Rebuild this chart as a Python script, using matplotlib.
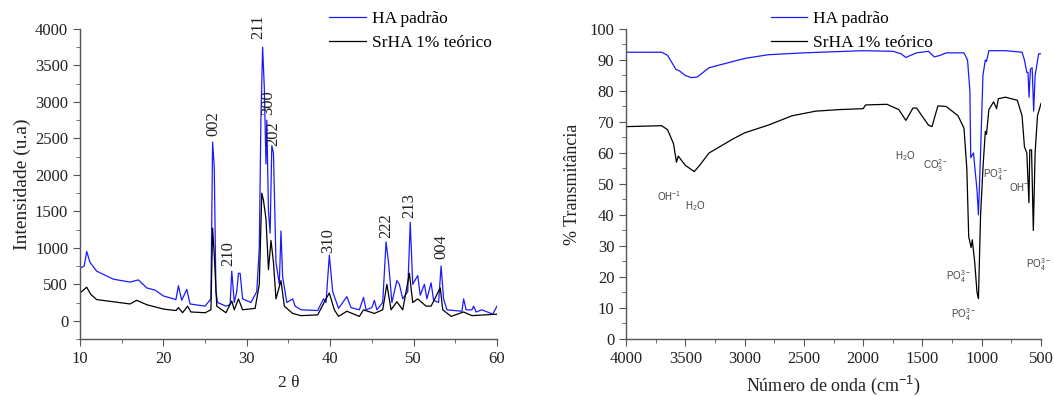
import matplotlib.pyplot as plt
from matplotlib.ticker import MultipleLocator

# XRD (2 theta, intensity)
xrd_ha_x = [10, 10.5, 10.8, 11.2, 12, 14, 16, 17, 18, 19, 20, 21.5, 21.8, 22.2, 22.8, 23.2,
            25, 25.7, 25.9, 26.1, 26.3, 26.5, 27.5, 28.0, 28.2, 28.5, 28.8, 29.0, 29.2, 29.5,
            30.5, 31.2, 31.5, 31.7, 31.9, 32.1, 32.3, 32.4, 32.6, 32.8, 33.0, 33.2, 33.5,
            33.9, 34.1, 34.3, 34.8, 35.5, 35.8, 36.5, 38.5, 39.2, 39.5, 39.9, 40.3, 41, 42,
            42.5, 43.5, 44, 44.3, 45, 45.3, 45.6, 46.3, 46.7, 47.0, 47.4, 48.0, 48.3, 48.7,
            49.3, 49.6, 49.9, 50.5, 50.8, 51.3, 51.6, 52.1, 52.4, 53.0, 53.3, 53.6, 54, 55.8,
            56.0, 56.3, 57.0, 57.2, 57.5, 58.2, 59.5, 60]
xrd_ha_y = [720, 750, 950, 800, 680, 570, 530, 560, 450, 420, 340, 290, 480, 280, 430, 230,
            200, 300, 2450, 2100, 400, 250, 200, 220, 680, 250, 400, 650, 650, 300,
            250, 400, 1000, 2800, 3750, 3200, 2150, 2750, 1500, 1200, 2400, 2300, 800,
            500, 1230, 600, 250, 300, 200, 150, 140, 300, 250, 900, 400, 170, 330,
            180, 150, 320, 150, 180, 280, 150, 250, 1080, 800, 250, 550, 500, 300,
            400, 1350, 500, 620, 350, 500, 300, 520, 280, 250, 750, 300, 150, 130,
            300, 150, 150, 200, 120, 150, 90, 200]

xrd_sr_x = [10, 10.8, 11.3, 12, 14, 16, 16.8, 18, 20, 21.5, 21.8, 22.3, 22.9, 23.3, 25, 25.7,
            25.9, 26.1, 26.4, 27.5, 28.2, 28.5, 29.0, 29.5, 31, 31.5, 31.8, 32.0, 32.3, 32.6,
            32.9, 33.2, 33.5, 34.1, 34.5, 35.5, 36.5, 38.5, 39.5, 39.9, 40.5, 41, 42, 43.5,
            44, 45.3, 46.3, 46.8, 47.3, 48.0, 48.7, 49.5, 49.9, 50.5, 51.5, 52.1, 53.2, 53.5,
            54.5, 56.0, 57, 60]
xrd_sr_y = [380, 460, 360, 290, 260, 230, 280, 220, 160, 140, 180, 110, 200, 120, 110, 150,
            1270, 900, 200, 110, 270, 150, 300, 150, 170, 500, 1750, 1650, 1400, 700,
            1100, 800, 300, 550, 200, 100, 70, 80, 300, 380, 150, 60, 130, 60,
            150, 100, 150, 500, 150, 260, 150, 650, 250, 300, 200, 200, 450, 150,
            60, 120, 70, 90]

peak_labels = ["002", "210", "211", "300", "202", "310", "222", "213", "004"]
peak_x = [26.0, 27.8, 31.4, 32.6, 33.2, 39.8, 46.7, 49.5, 53.3]
peak_y = [2530, 745, 3860, 2820, 2390, 935, 1130, 1405, 845]

# FTIR (wavenumber, % transmittance)
ir_ha_x = [4000, 3700, 3650, 3580, 3550, 3500, 3450, 3400, 3300, 3000, 2800, 2500, 2000,
           1750, 1680, 1640, 1600, 1550, 1450, 1400, 1350, 1300, 1150, 1120, 1100, 1093,
           1070, 1040, 1028, 1010, 990, 970, 960, 940, 800, 660, 640, 620, 610, 601, 590,
           575, 562, 550, 520, 500]
ir_ha_y = [92.5, 92.5, 91.5, 87, 86.5, 85, 84.3, 84.5, 87.5, 90.5, 91.7, 92.3, 93,
           92.8, 92, 90.8, 91.5, 92.3, 92.8, 91, 91.5, 92.3, 92.3, 90, 80, 58.5,
           60, 48, 40, 60, 85, 90, 89.5, 93, 93, 92.5, 90, 86, 86, 78, 87,
           87.5, 73.5, 85, 92, 92]

ir_sr_x = [4000, 3700, 3650, 3600, 3575, 3560, 3500, 3425, 3380, 3300, 3100, 3000, 2800,
           2600, 2400, 2200, 2000, 1980, 1800, 1700, 1640, 1580, 1550, 1450, 1420, 1370,
           1300, 1200, 1150, 1126, 1110, 1090, 1080, 1060, 1040, 1028, 1010, 990, 970, 960,
           940, 900, 875, 860, 800, 700, 660, 640, 620, 602, 595, 580, 565, 550, 530, 500]
ir_sr_y = [68.5, 68.8, 67.5, 63, 57, 59, 56, 54, 56, 60, 64.5, 66.5, 69,
           72, 73.5, 74, 74.3, 75.5, 75.7, 74, 70.5, 74.5, 74.5, 69, 68.5, 75.2,
           75, 72, 68, 55, 33, 29.5, 32, 25, 15, 13, 40, 55, 67, 66,
           74, 76.5, 74.3, 77.5, 78, 77, 72, 62, 60, 44, 61, 61, 35, 60, 72, 76]

ir_labels = ["OH$^{-1}$", "H$_2$O", "H$_2$O", "CO$_3^{2-}$", "PO$_4^{3-}$", "OH$^{-}$",
             "PO$_4^{3-}$", "PO$_4^{3-}$", "PO$_4^{3-}$"]
ir_lab_x = [3740, 3500, 1730, 1497, 986, 767, 1301, 1258, 629]
ir_lab_y = [46, 43, 59, 56, 53, 49, 20, 8, 24]

plt.rcParams['font.family'] = ['Liberation Serif', 'DejaVu Serif']
plt.rcParams['mathtext.fontset'] = 'custom'
plt.rcParams['mathtext.rm'] = 'Liberation Sans'

fig = plt.figure(figsize=(10.54, 3.96), dpi=100)
ax1 = fig.add_axes([0.0759, 0.144, 0.3956, 0.7828])
ax2 = fig.add_axes([0.594, 0.144, 0.3937, 0.7828])

spine_col = '#555555'
for ax in (ax1, ax2):
    for s in ('top', 'right'):
        ax.spines[s].set_visible(False)
    for s in ('left', 'bottom'):
        ax.spines[s].set_color(spine_col)
        ax.spines[s].set_linewidth(1.0)
    ax.tick_params(which='both', direction='out', colors=spine_col, labelcolor='#222222',
                   labelsize=12)
    ax.tick_params(which='major', length=5)
    ax.tick_params(which='minor', length=3)

leg_kw = dict(loc='upper left', frameon=False, fontsize=12.5, handlelength=2.1,
              handletextpad=0.35, labelspacing=0.45, borderaxespad=0, borderpad=0.2)

# left: XRD
ax1.plot(xrd_ha_x, xrd_ha_y, color='#1a1aff', lw=0.9, label='HA padrão')
ax1.plot(xrd_sr_x, xrd_sr_y, color='black', lw=0.9, label='SrHA 1% teórico')
for lab, x, y in zip(peak_labels, peak_x, peak_y):
    ax1.text(x, y, lab, rotation=90, ha='center', va='bottom', fontsize=12, color='#222222')
ax1.set_xlim(10, 60)
ax1.set_ylim(-250, 4000)
ax1.xaxis.set_major_locator(MultipleLocator(10))
ax1.xaxis.set_minor_locator(MultipleLocator(5))
ax1.yaxis.set_major_locator(MultipleLocator(500))
ax1.yaxis.set_minor_locator(MultipleLocator(250))
ax1.set_xlabel('2 θ', fontsize=12.5, color='#222222', labelpad=6)
ax1.set_ylabel('Intensidade (u.a)', fontsize=14, color='#222222', labelpad=3)
ax1.legend(bbox_to_anchor=(0.59, 1.07), **leg_kw)

# right: FTIR
ax2.plot(ir_ha_x, ir_ha_y, color='#1a1aff', lw=0.9, label='HA padrão')
ax2.plot(ir_sr_x, ir_sr_y, color='black', lw=0.9, label='SrHA 1% teórico')
for lab, x, y in zip(ir_labels, ir_lab_x, ir_lab_y):
    ax2.text(x, y, lab, ha='left', va='center', fontsize=7, color='#444444',
             family=['Liberation Sans', 'DejaVu Sans'])
ax2.set_xlim(4000, 500)
ax2.set_ylim(0, 100)
ax2.xaxis.set_major_locator(MultipleLocator(500))
ax2.xaxis.set_minor_locator(MultipleLocator(250))
ax2.yaxis.set_major_locator(MultipleLocator(10))
ax2.yaxis.set_minor_locator(MultipleLocator(5))
ax2.set_xlabel('Número de onda (cm$^{-1}$)', fontsize=13, color='#222222', labelpad=5)
ax2.set_ylabel('% Transmitância', fontsize=13, color='#222222', labelpad=6)
ax2.legend(bbox_to_anchor=(0.34, 1.07), **leg_kw)

fig.savefig('out.png', dpi=100)
